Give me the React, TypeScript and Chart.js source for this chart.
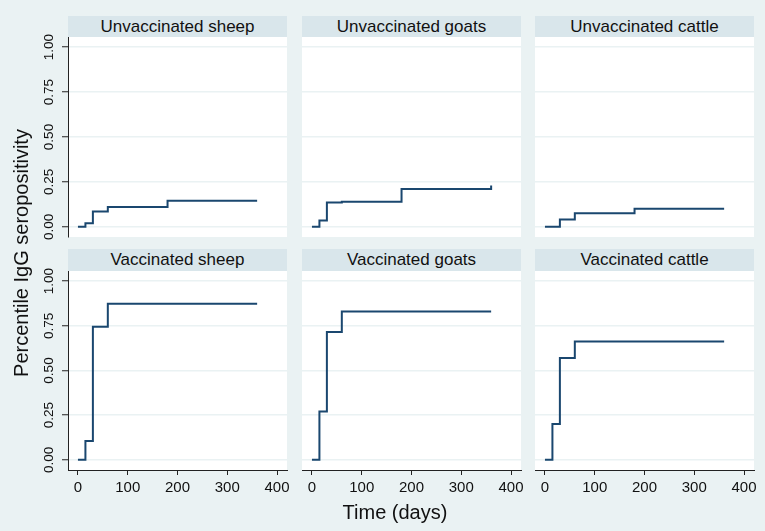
import React, { useEffect, useRef } from 'react';
import { Chart, registerables } from 'chart.js';

Chart.register(...registerables);

// follow-up days where the curves step
const days = [0, 15, 30, 60, 180, 360];

const unvaccinatedSheep = [0, 0.02, 0.085, 0.11, 0.145, 0.145];
const unvaccinatedGoats = [0, 0.035, 0.135, 0.14, 0.21, 0.23];
const unvaccinatedCattle = [0, 0, 0.04, 0.075, 0.1, 0.1];
const vaccinatedSheep = [0, 0.105, 0.745, 0.873, 0.873, 0.873];
const vaccinatedGoats = [0, 0.27, 0.716, 0.83, 0.83, 0.83];
const vaccinatedCattle = [0, 0.2, 0.57, 0.663, 0.663, 0.663];

const panelTitles = [
  'Unvaccinated sheep', 'Unvaccinated goats', 'Unvaccinated cattle',
  'Vaccinated sheep', 'Vaccinated goats', 'Vaccinated cattle',
];
const panelValues = [
  unvaccinatedSheep, unvaccinatedGoats, unvaccinatedCattle,
  vaccinatedSheep, vaccinatedGoats, vaccinatedCattle,
];

const xTicks = [0, 100, 200, 300, 400];
const yTicks = [0, 0.25, 0.5, 0.75, 1];

const BG = '#eaf2f3';
const STRIP = '#d9e6eb';
const NAVY = '#1a476f';
const INK = '#222';
const FONT = '"Liberation Sans", Arial, sans-serif';

// layout of the plot regions (px)
const colLeft = [68, 302, 535];
const plotW = 219;
const rowTop = [37, 271];
const plotH = [200, 199];
const headerTop = [16, 249];
const M = 16;
const Y_AXIS_W = 40;
const X_AXIS_H = 30;

const whitePlot = {
  id: 'whitePlot',
  beforeDraw(chart: any) {
    const { ctx, chartArea } = chart;
    ctx.save();
    ctx.fillStyle = '#ffffff';
    ctx.fillRect(chartArea.left, chartArea.top, chartArea.right - chartArea.left, chartArea.bottom - chartArea.top);
    ctx.restore();
  },
};

function Panel({ index }: { index: number }) {
  const chartRef = useRef<HTMLCanvasElement>(null);
  const col = index % 3;
  const row = Math.floor(index / 3);
  const showY = col === 0;
  const showX = row === 1;
  const yW = showY ? Y_AXIS_W : 0;
  const xH = showX ? X_AXIS_H : 0;
  const w = M + yW + plotW + M;
  const h = M + plotH[row] + xH + M;

  useEffect(() => {
    if (!chartRef.current) return;
    const values = panelValues[index];
    const chart = new Chart(chartRef.current, {
      type: 'line',
      data: {
        datasets: [{
          data: days.map((d, i) => ({ x: d, y: values[i] })),
          borderColor: NAVY,
          borderWidth: 2,
          stepped: true,
          pointRadius: 0,
          fill: false,
        }],
      },
      options: {
        responsive: false,
        animation: false,
        layout: { padding: M },
        plugins: {
          legend: { display: false },
          title: { display: false },
          tooltip: { enabled: false },
        },
        scales: {
          x: {
            type: 'linear',
            min: -20,
            max: 420,
            display: showX,
            afterBuildTicks: (s: any) => { s.ticks = xTicks.map(v => ({ value: v })); },
            afterFit: (s: any) => { s.height = xH; },
            grid: { drawOnChartArea: false, drawTicks: true, tickLength: 5, tickColor: INK, tickWidth: 1 },
            border: { display: true, color: INK, width: 1 },
            ticks: { font: { family: FONT, size: 15 }, color: '#111', padding: 4, maxRotation: 0 },
          },
          y: {
            type: 'linear',
            min: -0.057,
            max: 1.057,
            afterBuildTicks: (s: any) => { s.ticks = yTicks.map(v => ({ value: v })); },
            afterFit: (s: any) => { s.width = yW; },
            grid: { color: BG, lineWidth: 1.5, drawTicks: showY, tickLength: 6, tickColor: INK, tickWidth: 1 },
            border: { display: showY, color: INK, width: 1 },
            ticks: {
              display: showY,
              minRotation: 90,
              maxRotation: 90,
              crossAlign: 'center',
              padding: 0,
              font: { family: FONT, size: 13.5 },
              color: '#111',
              callback: (v: any) => Number(v).toFixed(2),
            },
          },
        },
      } as any,
      plugins: [whitePlot],
    });
    return () => { chart.destroy(); };
  }, []);

  return (
    <>
      <div style={{
        position: 'absolute', left: colLeft[col], top: headerTop[row], width: plotW,
        height: rowTop[row] - headerTop[row], lineHeight: `${rowTop[row] - headerTop[row]}px`,
        background: STRIP, textAlign: 'center', fontSize: 17, color: '#111',
      }}>{panelTitles[index]}</div>
      <canvas
        ref={chartRef}
        width={w}
        height={h}
        style={{ position: 'absolute', left: colLeft[col] - M - yW, top: rowTop[row] - M, width: w, height: h }}
      />
    </>
  );
}

export default function App() {
  return (
    <div style={{
      position: 'absolute', left: 0, top: 0, width: 765, height: 531,
      background: BG, overflow: 'hidden', fontFamily: FONT,
    }}>
      {panelTitles.map((_, i) => <Panel key={i} index={i} />)}
      <div style={{
        position: 'absolute', left: 21 - 150, top: 253 - 12, width: 300, height: 24,
        lineHeight: '24px', textAlign: 'center', fontSize: 20, color: '#111',
        transform: 'rotate(-90deg)',
      }}>Percentile IgG seropositivity</div>
      <div style={{
        position: 'absolute', left: 395 - 100, top: 512 - 12, width: 200, height: 24,
        lineHeight: '24px', textAlign: 'center', fontSize: 20, color: '#111',
      }}>Time (days)</div>
    </div>
  );
}
